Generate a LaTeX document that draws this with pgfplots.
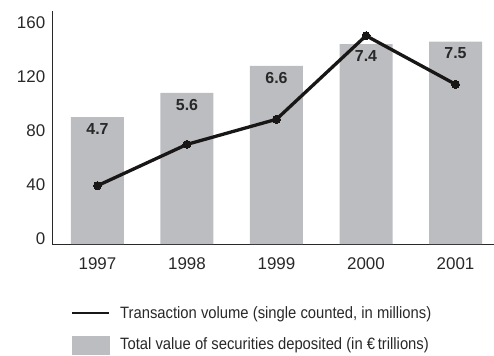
\documentclass[border=0pt]{standalone}
\usepackage{pgfplots}
\pgfplotsset{compat=1.18}
\usepackage{fontspec}
\setmainfont{Liberation Sans}
\newfontfamily\condfont[FakeStretch=0.9]{Liberation Sans}
\definecolor{barg}{RGB}{188,189,193}
\definecolor{txt}{RGB}{40,40,40}
\definecolor{ln}{RGB}{25,22,22}
\begin{document}
\begin{tikzpicture}
\path[use as bounding box] (0,0) rectangle (494bp,356bp);
\begin{axis}[
  at={(52bp,112bp)}, anchor=south west,
  scale only axis, width=442bp, height=233bp,
  xmin=-0.508, xmax=4.43, ymin=0, ymax=172.6,
  axis x line*=bottom, axis y line*=left,
  axis line style={draw=txt, line width=0.9bp, -},
  tick style={draw=none},
  xtick={0,1,2,3,4},
  xticklabels={1997,1998,1999,2000,2001},
  ytick={0,40,80,120,160},
  /pgf/number format/assume math mode=true,
  ticklabel style={font=\fontsize{17}{20}\selectfont, text=txt},
  yticklabel style={yshift=5bp, xshift=-3.3bp},
  xticklabel style={yshift=-10bp},
  clip=false,
  legend style={at={(axis description cs:0.043,-0.268)}, anchor=north west,
    draw=none, fill=none, inner sep=0pt, row sep=15.5bp,
    font=\condfont\fontsize{16.5}{19}\selectfont, text=txt,
    nodes={inner sep=0pt}},
  legend cell align=left,
]
\addplot[ybar, bar width=53bp, bar shift=0pt, fill=barg, draw=none,
  nodes near coords, point meta=explicit symbolic,
  every node near coord/.append style={anchor=north, inner sep=0pt, yshift=-6bp,
    font=\fontsize{16}{19}\selectfont\bfseries, text=txt},
  forget plot]
  table[meta=lab] {
x y lab
0 94 4.7
1 112 5.6
2 132 6.6
3 148 7.4
4 150 7.5
};
\addplot[ln, line width=3.3bp, mark=*, mark size=4bp, mark options={fill=ln, draw=ln, line width=0pt}, forget plot]
  coordinates {(0,43.2) (1,73.8) (2,92.4) (3,154.3) (4,118.3)};
\addlegendimage{legend image code/.code={\draw[ln, line width=2bp] (0bp,0bp) -- (37bp,0bp);}}
\addlegendentry{\hspace{10bp}Transaction volume (single counted, in millions)}
\addlegendimage{legend image code/.code={\fill[barg] (0bp,-9bp) rectangle (37bp,9bp);}}
\addlegendentry{\hspace{10bp}Total value of securities deposited (in €\,trillions)}
\end{axis}
\end{tikzpicture}
\end{document}
